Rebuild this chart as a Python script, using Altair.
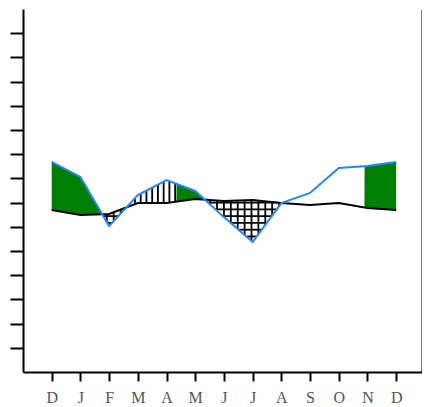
import altair as alt
import numpy as np
import pandas as pd

# ---- data ----
months = ["D", "J", "F", "M", "A", "M", "J", "J", "A", "S", "O", "N", "D"]
black_vals = [6.69, 6.49, 6.53, 6.98, 6.98, 7.15, 7.07, 7.11, 6.98, 6.90, 6.98, 6.78, 6.69]
blue_vals = [8.68, 8.06, 6.03, 7.31, 7.93, 7.48, 6.40, 5.37, 6.98, 7.40, 8.43, 8.51, 8.68]

# x ranges (in month index units) where the wet part is filled green / vertical hatch
green_ranges = [(0.0, 2.0), (4.35, 6.0), (10.9, 12.0)]
vhatch_ranges = [(2.0, 4.35)]
ytick_vals = list(range(1, 15))

idx = np.arange(len(months))
line_df = pd.DataFrame({"x": idx, "black": black_vals, "blue": blue_vals})

xs = np.round(np.arange(0, 12.0001, 0.005), 4)
bl = np.interp(xs, idx, black_vals)
bu = np.interp(xs, idx, blue_vals)
wet = bu > bl
dry = bu < bl

def in_ranges(x, ranges):
    m = np.zeros_like(x, dtype=bool)
    for a, b in ranges:
        m |= (x >= a) & (x <= b)
    return m

green_mask = wet & in_ranges(xs, green_ranges)
green_df = pd.DataFrame({"x": xs, "y": bl, "y2": np.where(green_mask, bu, bl)})

# vertical hatch
xv = np.round(np.arange(0.1, 12, 0.2), 4)
blv = np.interp(xv, idx, black_vals)
buv = np.interp(xv, idx, blue_vals)
mv = (buv > blv) & in_ranges(xv, vhatch_ranges)
vh_df = pd.DataFrame({"x": xv[mv], "y": blv[mv], "y2": buv[mv]})

# cross hatch vertical lines
xc = np.round(np.arange(0, 12.0001, 0.24), 4)
blc = np.interp(xc, idx, black_vals)
buc = np.interp(xc, idx, blue_vals)
mc = buc < blc
cv_df = pd.DataFrame({"x": xc[mc], "y": buc[mc], "y2": blc[mc]})

# cross hatch horizontal lines
rows = []
for k in range(10):
    v = 7.0 - 0.28 * k
    m = dry & (bu < v) & (bl > v)
    i = 0
    n = len(xs)
    while i < n:
        if m[i]:
            j = i
            while j + 1 < n and m[j + 1]:
                j += 1
            rows.append({"x": xs[i], "x2": xs[j], "y": v})
            i = j + 1
        else:
            i += 1
ch_df = pd.DataFrame(rows)

label_expr = "[" + ",".join("'" + m + "'" for m in months) + "][datum.value]"

xscale = alt.Scale(domain=[-1, 12.9], nice=False, zero=False)
yscale = alt.Scale(domain=[0, 15], nice=False, zero=False)

xaxis = alt.Axis(
    values=list(range(len(months))),
    labelExpr=label_expr,
    title=None,
    grid=False,
    domainColor="black",
    domainWidth=2,
    tickColor="black",
    tickWidth=2,
    tickSize=9,
    labelFont="Liberation Serif",
    labelFontSize=16,
    labelColor="#555555",
    labelPadding=8,
)

def xenc():
    return alt.X("x:Q", scale=xscale, axis=xaxis)

green = alt.Chart(green_df).mark_area(color="#008000", opacity=1).encode(
    x=xenc(),
    y=alt.Y("y:Q", scale=yscale, axis=None),
    y2="y2:Q",
)

vh = alt.Chart(vh_df).mark_rule(color="black", strokeWidth=1.8).encode(
    x=xenc(),
    y=alt.Y("y:Q", scale=yscale, axis=None),
    y2="y2:Q",
)

cv = alt.Chart(cv_df).mark_rule(color="black", strokeWidth=1.8).encode(
    x=xenc(),
    y=alt.Y("y:Q", scale=yscale, axis=None),
    y2="y2:Q",
)

ch = alt.Chart(ch_df).mark_rule(color="black", strokeWidth=1.8).encode(
    x=xenc(),
    x2="x2:Q",
    y=alt.Y("y:Q", scale=yscale, axis=None),
)

black_line = alt.Chart(line_df).mark_line(color="black", strokeWidth=2).encode(
    x=xenc(),
    y=alt.Y(
        "black:Q",
        scale=yscale,
        axis=alt.Axis(
            orient="left",
            values=ytick_vals,
            labels=False,
            title=None,
            grid=False,
            domainColor="black",
            domainWidth=2,
            tickColor="black",
            tickWidth=2,
            tickSize=13,
        ),
    ),
)

blue_line = alt.Chart(line_df).mark_line(color="#1E88FF", strokeWidth=2).encode(
    x=xenc(),
    y=alt.Y(
        "blue:Q",
        scale=yscale,
        axis=alt.Axis(
            orient="right",
            values=ytick_vals,
            labels=False,
            title=None,
            grid=False,
            domainColor="black",
            domainWidth=2,
            tickColor="black",
            tickWidth=2,
            tickSize=13,
        ),
    ),
)

chart = (
    alt.layer(green, vh, cv, ch, black_line, blue_line)
    .resolve_axis(y="independent")
    .properties(
        width=399,
        height=363,
        autosize=alt.AutoSizeParams(type="none"),
        padding={"left": 15, "top": 1, "right": 0, "bottom": 35},
    )
    .configure_view(strokeWidth=0)
)

chart.save("out.html", embed_options={"renderer": "svg", "actions": False})
